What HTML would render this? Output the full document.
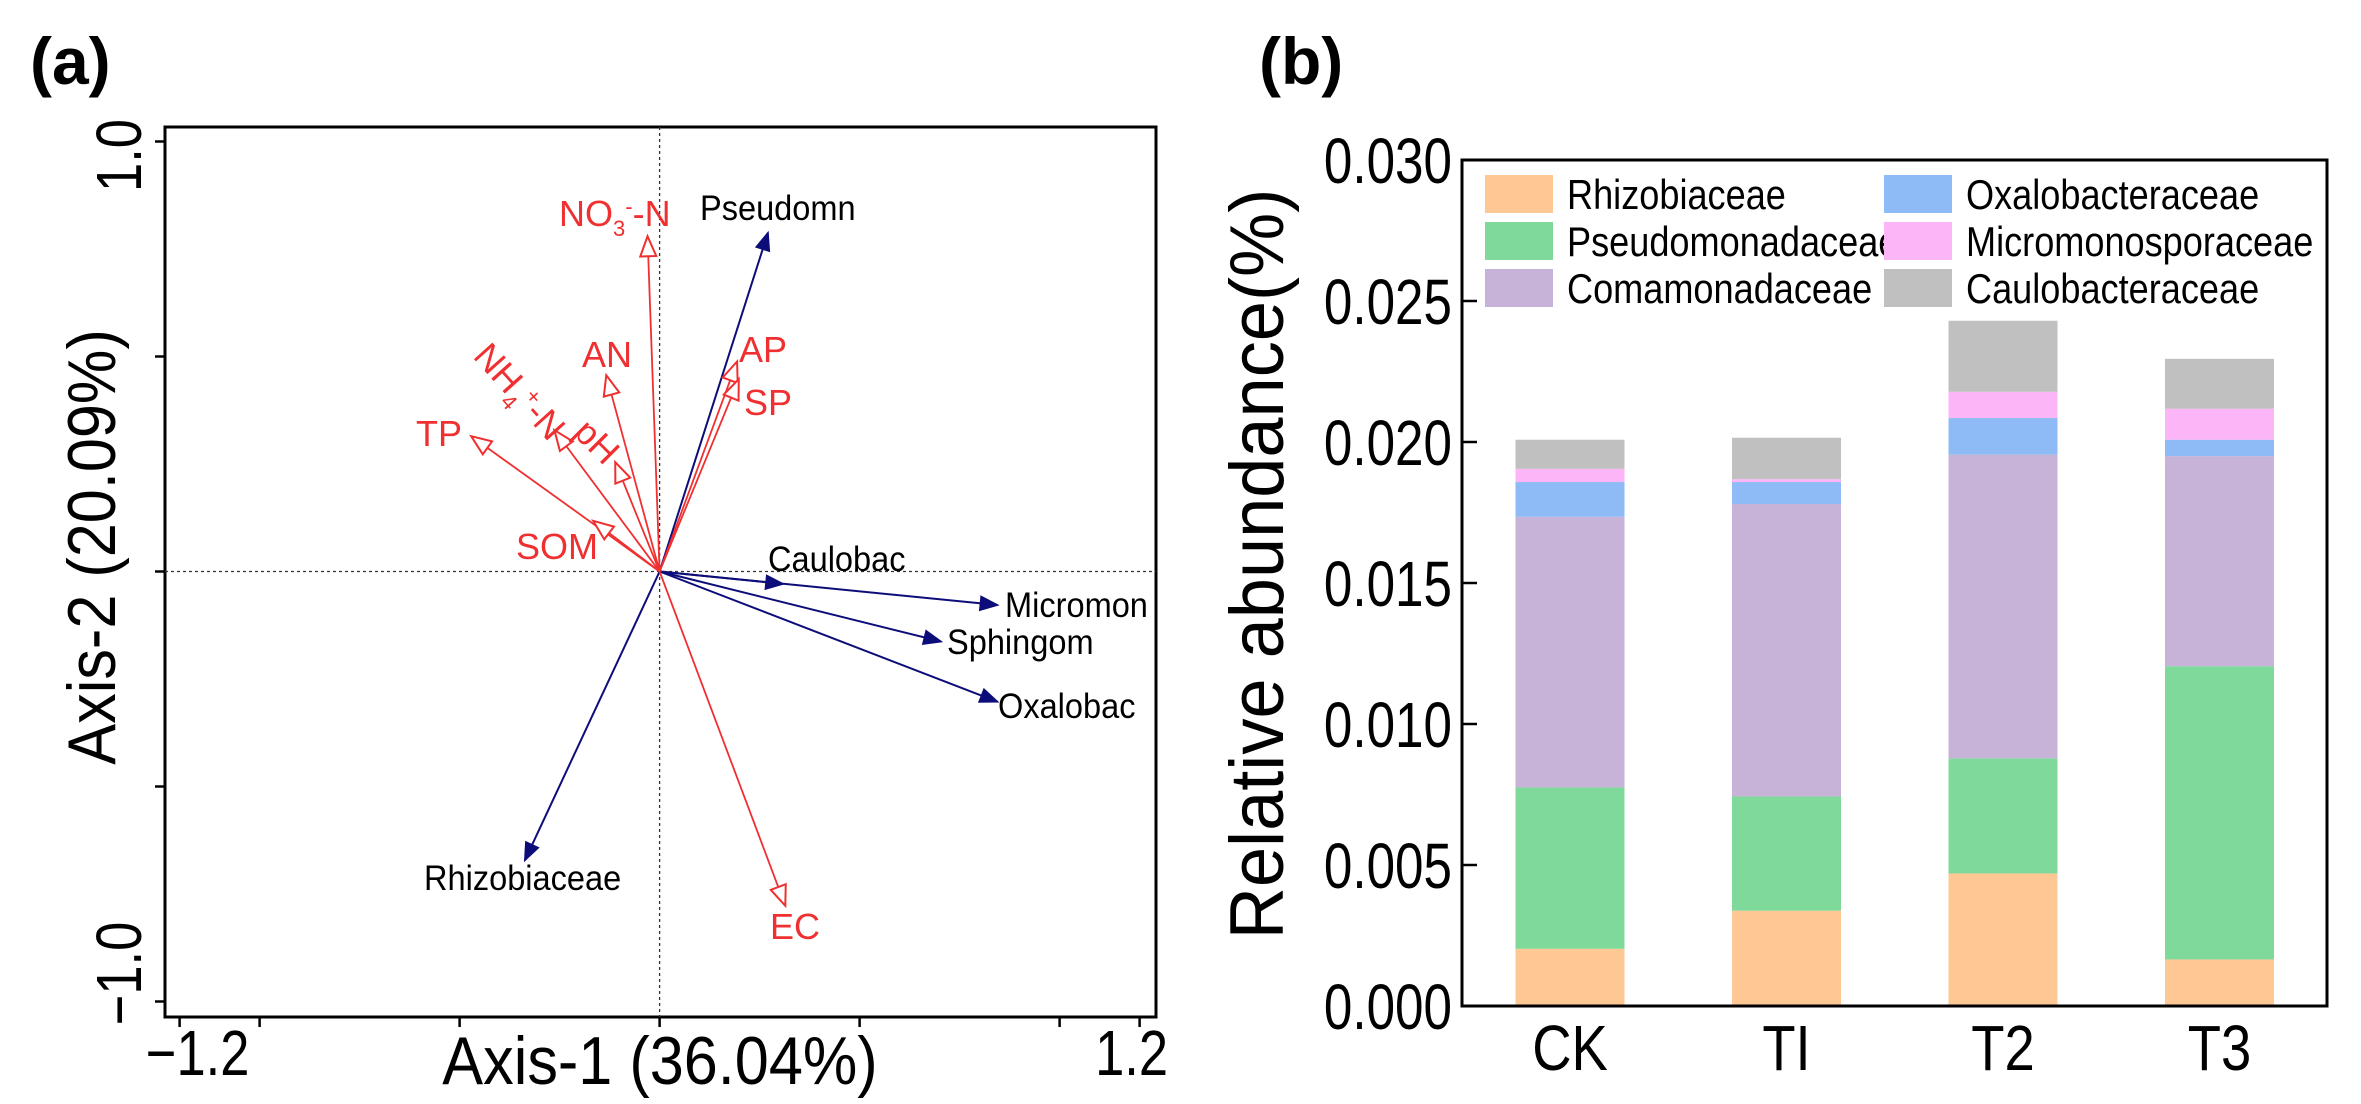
<!DOCTYPE html>
<html><head><meta charset="utf-8"><style>
html,body{margin:0;padding:0;background:#fff;}
svg{display:block;font-family:"Liberation Sans",Arial,sans-serif;}
</style></head><body>
<svg id="fig" width="2361" height="1104" viewBox="0 0 2361 1104" xmlns="http://www.w3.org/2000/svg">
<defs>
<marker id="bh" viewBox="0 0 10 10" refX="9" refY="5" markerWidth="24" markerHeight="20" markerUnits="userSpaceOnUse" orient="auto"><path d="M0,1 L10,5 L0,9 z" fill="#0d0d7a"/></marker>
<marker id="rh" viewBox="0 0 10 10" refX="9" refY="5" markerWidth="30" markerHeight="20" markerUnits="userSpaceOnUse" orient="auto"><path d="M0,1 L10,5 L0,9 z" fill="#fff" stroke="#f03030" stroke-width="1"/></marker>
</defs>
<g id="pa"></g>
<g id="pb"></g>
</svg>
<script>
// ---- Panel (a) data ----
const speciesNames = ["Pseudomn","Caulobac","Micromon","Sphingom","Oxalobac","Rhizobiaceae"];
const speciesX = [0.271,0.309,0.845,0.704,0.845,-0.337];
const speciesY = [0.788,-0.029,-0.078,-0.163,-0.303,-0.672];
const envNames = ["NO3-N","AN","NH4-N","pH","TP","SOM","AP","SP","EC"];
const envX = [-0.030,-0.132,-0.260,-0.109,-0.467,-0.162,0.192,0.196,0.3125];
const envY = [0.775,0.452,0.325,0.250,0.312,0.115,0.484,0.443,-0.773];
const xTickVals = [-1.2,-1.0,-0.5,0,0.5,1.0,1.2];
const yTickVals = [1.0,0.5,0,-0.5,-1.0];
// ---- Panel (b) data ----
const categories = ["CK","TI","T2","T3"];
const families = ["Rhizobiaceae","Pseudomonadaceae","Comamonadaceae","Oxalobacteraceae","Micromonosporaceae","Caulobacteraceae"];
const rhizobiaceae = [0.00203,0.00338,0.00470,0.00165];
const pseudomonadaceae = [0.00572,0.00405,0.00408,0.01040];
const comamonadaceae = [0.00960,0.01037,0.01077,0.00745];
const oxalobacteraceae = [0.00123,0.00078,0.00130,0.00058];
const micromonosporaceae = [0.00047,0.00010,0.00093,0.00110];
const caulobacteraceae = [0.00103,0.00147,0.00252,0.00177];
const yTicksB = [0,0.005,0.010,0.015,0.020,0.025,0.030];
const yTickLabelsB = ["0.000","0.005","0.010","0.015","0.020","0.025","0.030"];

const NS="http://www.w3.org/2000/svg";
function mk(p,t,a,txt){const e=document.createElementNS(NS,t);for(const k in a)e.setAttribute(k,a[k]);if(txt!==undefined)e.textContent=txt;p.appendChild(e);return e;}
function cond(e,f){const w=e.getComputedTextLength();e.setAttribute('textLength',(w*f).toFixed(1));e.setAttribute('lengthAdjust','spacingAndGlyphs');}

// ===== Panel A =====
const pa=document.getElementById('pa');
const sx=v=>659.6+400*v, sy=v=>571.5-430*v;
let t=mk(pa,'text',{x:30,y:84,'font-size':66,'font-weight':'bold'},'(a)');


let box=mk(pa,'rect',{x:165,y:127,width:991,height:890,fill:'none',stroke:'#000','stroke-width':3});


let l=mk(pa,'line',{x1:sx(0),y1:127,x2:sx(0),y2:1017,stroke:'#333','stroke-width':1.3,'stroke-dasharray':'3,3'});


l=mk(pa,'line',{x1:165,y1:sy(0),x2:1156,y2:sy(0),stroke:'#333','stroke-width':1.3,'stroke-dasharray':'3,3'});


xTickVals.forEach(v=>{const e=mk(pa,'line',{x1:sx(v),y1:1017,x2:sx(v),y2:1027,stroke:'#000','stroke-width':2.5});

});
yTickVals.forEach(v=>{const e=mk(pa,'line',{x1:155,y1:sy(v),x2:165,y2:sy(v),stroke:'#000','stroke-width':2.5});

});
t=mk(pa,'text',{x:sx(-1.2)+18,y:1075,'font-size':64,'text-anchor':'middle'},'\u22121.2');


cond(t,0.82);
t=mk(pa,'text',{x:sx(1.2)-8,y:1075,'font-size':64,'text-anchor':'middle'},'1.2');


cond(t,0.82);
t=mk(pa,'text',{x:0,y:0,'font-size':64,'text-anchor':'middle',transform:`translate(141,${sy(1)+14}) rotate(-90)`},'1.0');


cond(t,0.82);
t=mk(pa,'text',{x:0,y:0,'font-size':64,'text-anchor':'middle',transform:`translate(141,${sy(-1)-28}) rotate(-90)`},'\u22121.0');


cond(t,0.82);
t=mk(pa,'text',{x:660,y:1084,'font-size':68,'text-anchor':'middle'},'Axis-1 (36.04%)');


cond(t,0.9);
t=mk(pa,'text',{x:0,y:0,'font-size':68,'text-anchor':'middle',transform:'translate(115,547) rotate(-90)'},'Axis-2 (20.09%)');


cond(t,0.9);
const spLab=[[700,220],[768,571],[1005,617],[947,654],[998,718],[424,890]];
speciesNames.forEach((n,i)=>{
 const a=mk(pa,'line',{x1:sx(0),y1:sy(0),x2:sx(speciesX[i]),y2:sy(speciesY[i]),stroke:'#0d0d7a','stroke-width':2,'marker-end':'url(#bh)'});
 
 
 const tx=mk(pa,'text',{x:spLab[i][0],y:spLab[i][1],'font-size':35,fill:'#000'},n);
 
 
 cond(tx,0.93);
});
envNames.forEach((n,i)=>{
 const a=mk(pa,'line',{x1:sx(0),y1:sy(0),x2:sx(envX[i]),y2:sy(envY[i]),stroke:'#f03030','stroke-width':1.8,'marker-end':'url(#rh)'});
 
 
});
const red='#f03030';
function envLabel(x,y,txt,name,rot){const g=mk(pa,'text',{x:x,y:y,'font-size':36,fill:red});
 if(rot)g.setAttribute('transform',`rotate(${rot} ${x} ${y})`);
 g.innerHTML=txt;
 
 }
envLabel(559,226,'NO<tspan font-size="22" dy="10">3</tspan><tspan font-size="22" dy="-22">-</tspan><tspan dy="12">-N</tspan>','env-label-no3');
envLabel(582,367,'AN','env-label-an');
envLabel(739,362,'AP','env-label-ap');
envLabel(744,415,'SP','env-label-sp');
envLabel(416,446,'TP','env-label-tp');
envLabel(516,559,'SOM','env-label-som');
envLabel(770,939,'EC','env-label-ec');
envLabel(472,357,'NH<tspan font-size="22" dy="10">4</tspan><tspan font-size="22" dy="-22">+</tspan><tspan dy="12">-N</tspan>','env-label-nh4',48);
envLabel(572,434,'pH','env-label-ph',45);

// ===== Panel B =====
const pb=document.getElementById('pb');
const L=1462,R=2327,T=160,B=1006;
const by=v=>B-(B-T)*v/0.030;
const bx=i=>1570+i*216.5;
t=mk(pb,'text',{x:1259,y:84,'font-size':66,'font-weight':'bold'},'(b)');


const series=[rhizobiaceae,pseudomonadaceae,comamonadaceae,oxalobacteraceae,micromonosporaceae,caulobacteraceae];
const colors=['#fdc894','#7fd99a','#c8b3d8','#8ebbf5','#fcb6f8','#c0c0c0'];
categories.forEach((c,i)=>{
 let cum=0;
 series.forEach((s,k)=>{
  const y0=by(cum),y1=by(cum+s[i]);cum+=s[i];
  const r=mk(pb,'rect',{x:bx(i)-54.5,y:y1,width:109,height:y0-y1,fill:colors[k]});
  
  
 });
 const lb=mk(pb,'text',{x:bx(i),y:1070,'font-size':64,'text-anchor':'middle'},c);
 
 
 cond(lb,0.85);
});
box=mk(pb,'rect',{x:L,y:T,width:R-L,height:B-T,fill:'none',stroke:'#000','stroke-width':3});


yTicksB.forEach((v,i)=>{
 const e=mk(pb,'line',{x1:L,y1:by(v),x2:L+15,y2:by(v),stroke:'#000','stroke-width':2.5});
 
 
 const tx=mk(pb,'text',{x:1452,y:by(v)+23,'font-size':64,'text-anchor':'end'},yTickLabelsB[i]);
 
 
 cond(tx,0.8);
});
t=mk(pb,'text',{x:0,y:0,'font-size':76,'text-anchor':'middle',transform:'translate(1283,564) rotate(-90)'},'Relative abundance(%)');


cond(t,0.95);
const legX=[1485,1485,1485,1884,1884,1884],legY=[194,241,288,194,241,288];
families.forEach((f,k)=>{
 const tx=mk(pb,'text',{x:legX[k]+82,y:legY[k]+15,'font-size':42},f);
 
 
 cond(tx,0.86);
});
families.forEach((f,k)=>{
 const sw=mk(pb,'rect',{x:legX[k],y:legY[k]-19,width:68,height:38,fill:colors[k]});
 
 
});
</script>
</body></html>
